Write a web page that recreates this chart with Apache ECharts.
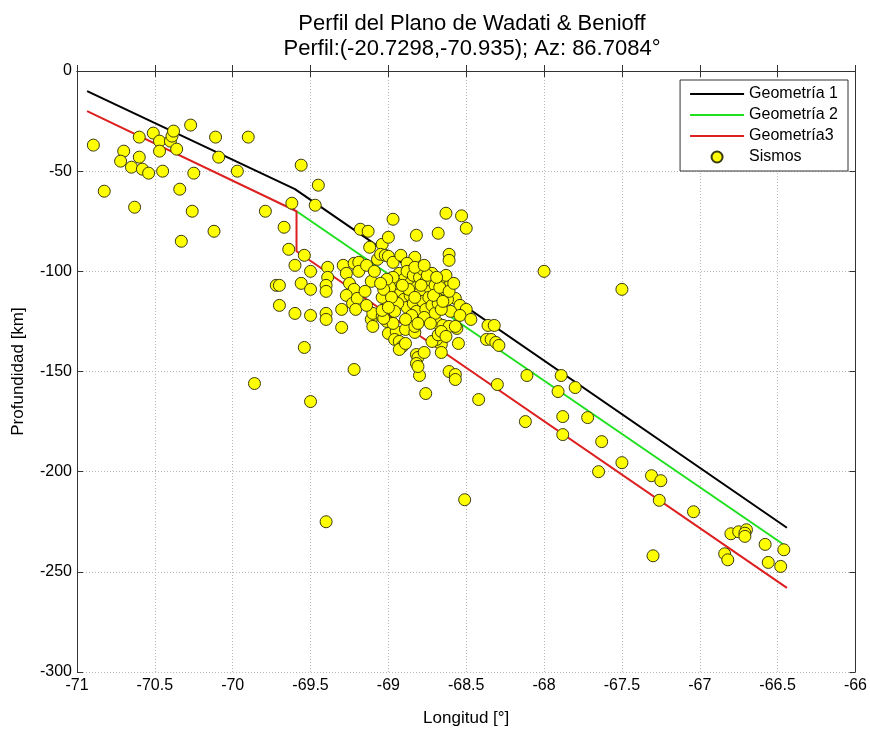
<!DOCTYPE html>
<html>
<head>
<meta charset="utf-8">
<script src="https://cdn.jsdelivr.net/npm/echarts@6/dist/echarts.min.js"></script>
<style>
html,body{margin:0;padding:0;background:#fff;}
#chart{width:870px;height:732px;}
</style>
</head>
<body>
<div id="chart"></div>
<script>
// Geometry lines
var geom1Lon = [-70.935, -69.60, -66.44];
var geom1Prof = [-10, -59, -228];
var geom2Lon = [-69.59, -66.45];
var geom2Prof = [-70, -237];
var geom3Lon = [-70.935, -69.59, -69.59, -66.44];
var geom3Prof = [-20, -70, -90, -258];

// Earthquakes (Sismos)
var sismosLon = [
-70.895,-70.825,-70.70,-70.72,-70.65,-70.60,-70.60,-70.58,-70.54,-70.63,
-70.51,-70.47,-70.47,-70.45,-70.40,-70.39,-70.38,-70.36,-70.34,-70.33,
-70.27,-70.25,-70.26,-70.11,-70.09,-70.12,-69.97,-69.90,-69.79,-69.67,
-69.64,-69.62,-69.56,-69.47,-69.45,-69.54,
-69.60,-69.50,-69.39,-69.39,-69.72,-69.70,-69.56,-69.50,-69.40,-69.40,
-69.70,-69.60,-69.50,-69.40,-69.40,-69.30,-69.30,-69.29,-69.27,-69.22,
-69.19,-69.19,-69.14,-69.11,-69.09,-69.25,-69.22,-69.27,-69.23,-69.20,
-69.15,-69.18,-69.13,-69.12,-69.04,-69.00,-68.97,-68.82,-68.68,-69.07,
-69.05,-69.02,-69.00,-68.97,-68.92,-68.83,-68.88,-69.11,-69.10,-69.04,
-69.01,-69.21,-69.14,-69.10,-69.00,-68.95,-68.89,-68.83,-68.80,
-68.50,-68.61,-68.61,-68.57,-68.54,-68.50,-68.60,-68.54,-68.47,-68.56,
-68.36,-68.32,-68.37,-68.34,-68.31,-68.29,-68.55,-68.66,-68.66,-68.69,
-68.72,-68.61,-68.57,-68.57,-68.80,-68.82,-68.81,-68.82,-68.81,-68.77,
-68.30,-68.96,-68.93,-68.91,-68.93,-68.89,-68.83,-68.97,-69.03,-69.04,
-69.00,-69.04,-68.72,-68.68,-68.65,-68.61,-68.57,-68.68,-68.66,-68.63,
-68.63,-68.53,-68.00,
-67.50,-68.11,-67.89,-67.91,-67.80,-68.42,-68.12,-67.88,-67.72,-67.88,
-67.63,-67.50,-67.65,-67.31,-67.25,-67.26,-67.04,-67.30,-66.80,-66.75,
-66.70,-66.71,-66.71,-66.84,-66.82,-66.58,-66.46,-66.56,-66.48,
-69.86,-69.50,-69.22,-69.40,-68.51,-68.76,-69.54,
-68.93,-68.90,-68.88,-68.86,-68.84,-68.82,-68.80,-68.78,-68.76,-68.74,
-68.72,-68.70,-68.68,-68.66,-68.64,-68.62,-68.60,-68.92,-68.90,-68.88,
-68.86,-68.84,-68.82,-68.80,-68.78,-68.76,-68.74,-68.72,-68.70,-68.68,
-68.66,-68.95,-68.97,-68.99,-69.01,-69.03,-69.05,-68.94,-68.96,-68.98,
-69.00,-68.87,-68.83,-68.79,-68.75,-68.71,-68.67,-68.63,-68.85,-68.77,
-68.73,-68.81,-68.89,-68.91,-68.69,-68.65,-68.61,-68.58,-68.83,-68.77
];
var sismosProf = [
-37,-60,-40,-45,-48,-33,-43,-49,-51,-68,
-31,-35,-40,-50,-35,-32.5,-30,-39,-59,-85,
-27,-51,-70,-33,-43,-80,-50,-33,-70,-78,
-89,-66,-47,-67,-57,-92,
-97,-100,-98,-103,-107,-107,-106,-109,-107,-110,
-117,-121,-122,-121,-124,-128,-119,-97,-101,-96,
-95.5,-100,-97,-105,-100,-106,-109,-112,-116,-113.5,
-110,-79,-80,-88,-86.5,-83,-74,-82,-81,-94,
-91.5,-92,-92.5,-95.5,-92,-93,-96,-124,-121,-122.5,
-125,-119,-117,-127.5,-131,-130,-129,-130.5,-124,
-78.5,-91.5,-94.5,-113.5,-117,-119,-120,-122,-124,-128.5,
-127,-127,-134,-134,-135.5,-137,-136,-136.5,-140.5,-134,
-135,-150,-151.5,-154,-152,-141.5,-143,-146,-147.5,-140.5,
-156.5,-134,-135,-137.5,-139,-136,-127.5,-126,-123.5,-119.5,
-116,-113,-122.7,-126,-127,-127.5,-127.5,-131.7,-130,-132.5,
-71,-72.3,-100,
-109,-152,-152,-160,-158,-164,-175,-172.5,-173,-181.5,
-185,-195.5,-200,-202,-204.5,-214.3,-220,-242,-231,-230,
-229,-230.7,-232.3,-241,-244,-236.3,-239,-245.3,-247.3,
-156,-165,-149,-225,-214,-161,-138,
-101,-104,-100,-106,-102,-108,-103,-99,-105,-110,
-101,-107,-112,-104,-109,-114,-106,-110,-114,-118,
-112,-116,-120,-111,-115,-119,-113,-117,-121,-116,
-119,-106,-103,-108,-104,-109,-106,-116,-120,-113,
-118,-109,-113,-107,-102,-112,-108,-102,-122,-123,
-126,-126,-124,-107,-103,-115,-110,-106,-98,-97
];

// Axis ticks
var xTicks = [-71, -70.5, -70, -69.5, -69, -68.5, -68, -67.5, -67, -66.5, -66];
var yTicks = [0, -50, -100, -150, -200, -250, -300];

function zip(a, b) { var r = []; for (var i = 0; i < a.length; i++) r.push([a[i], b[i]]); return r; }

var FONT = 'Liberation Sans, Arial, sans-serif';
var chart = echarts.init(document.getElementById('chart'), null, {renderer: 'canvas'});

var baseX = {
  type: 'value', min: xTicks[0], max: xTicks[xTicks.length - 1], interval: 0.5
};
var baseY = {
  type: 'value', min: yTicks[yTicks.length - 1], max: yTicks[0], interval: 50
};
var LINE_ICON = 'path://M0,0L52,0L52,2L0,2Z';

var option = {
  backgroundColor: '#fff',
  animation: false,
  title: [
    {text: 'Perfil del Plano de Wadati & Benioff', left: 467, top: 8, textAlign: 'center',
     textStyle: {fontFamily: FONT, fontSize: 22, fontWeight: 'normal', color: '#000'}},
    {text: 'Perfil:(-20.7298,-70.935); Az: 86.7084°', left: 467, top: 33, textAlign: 'center',
     textStyle: {fontFamily: FONT, fontSize: 22, fontWeight: 'normal', color: '#000'}}
  ],
  grid: {left: 77, right: 13, top: 71, bottom: 52, containLabel: false},
  legend: {
    orient: 'vertical', right: 22, top: 80,
    backgroundColor: '#fff', borderColor: '#333', borderWidth: 1,
    padding: [6, 10, 6, 10], itemGap: 5, itemWidth: 54, itemHeight: 11,
    textStyle: {fontFamily: FONT, fontSize: 16, color: '#000'},
    data: [
      {name: 'Geometría 1', icon: LINE_ICON},
      {name: 'Geometría 2', icon: LINE_ICON},
      {name: 'Geometría3', icon: LINE_ICON},
      {name: 'Sismos', icon: 'circle'}
    ]
  },
  xAxis: [
    Object.assign({}, baseX, {
      position: 'bottom',
      name: 'Longitud [°]', nameLocation: 'middle', nameGap: 38,
      nameTextStyle: {fontFamily: FONT, fontSize: 17, color: '#000'},
      axisLine: {show: true, lineStyle: {color: '#333', width: 1}},
      axisTick: {show: true, inside: true, length: 6, lineStyle: {color: '#333'}},
      axisLabel: {fontFamily: FONT, fontSize: 16, color: '#000', margin: 6},
      splitLine: {show: true, lineStyle: {type: [1, 2], color: '#b8b8b8', width: 1}}
    }),
    Object.assign({}, baseX, {
      position: 'top',
      axisLine: {show: true, lineStyle: {color: '#333', width: 1}},
      axisTick: {show: true, inside: true, length: 6, lineStyle: {color: '#333'}},
      axisLabel: {show: false},
      splitLine: {show: false}
    })
  ],
  yAxis: [
    Object.assign({}, baseY, {
      position: 'left',
      name: 'Profundidad [km]', nameLocation: 'middle', nameGap: 50,
      nameTextStyle: {fontFamily: FONT, fontSize: 17, color: '#000'},
      axisLine: {show: true, lineStyle: {color: '#333', width: 1}},
      axisTick: {show: true, inside: true, length: 6, lineStyle: {color: '#333'}},
      axisLabel: {fontFamily: FONT, fontSize: 16, color: '#000', margin: 5},
      splitLine: {show: true, lineStyle: {type: [1, 2], color: '#b8b8b8', width: 1}}
    }),
    Object.assign({}, baseY, {
      position: 'right',
      axisLine: {show: true, lineStyle: {color: '#333', width: 1}},
      axisTick: {show: true, inside: true, length: 6, lineStyle: {color: '#333'}},
      axisLabel: {show: false},
      splitLine: {show: false}
    })
  ],
  series: [
    {name: 'Geometría 1', type: 'line', symbol: 'none', data: zip(geom1Lon, geom1Prof),
     lineStyle: {color: '#000', width: 2}, itemStyle: {color: '#000'}, z: 2},
    {name: 'Geometría 2', type: 'line', symbol: 'none', data: zip(geom2Lon, geom2Prof),
     lineStyle: {color: '#1ee01e', width: 2}, itemStyle: {color: '#1ee01e'}, z: 2},
    {name: 'Geometría3', type: 'line', symbol: 'none', data: zip(geom3Lon, geom3Prof),
     lineStyle: {color: '#dd1f1f', width: 2}, itemStyle: {color: '#dd1f1f'}, z: 2},
    {name: 'Sismos', type: 'scatter', symbol: 'circle', symbolSize: 12, data: zip(sismosLon, sismosProf),
     itemStyle: {color: '#ffff00', borderColor: '#3a3a10', borderWidth: 1, opacity: 1}, z: 3}
  ]
};
chart.setOption(option);
</script>
</body>
</html>
